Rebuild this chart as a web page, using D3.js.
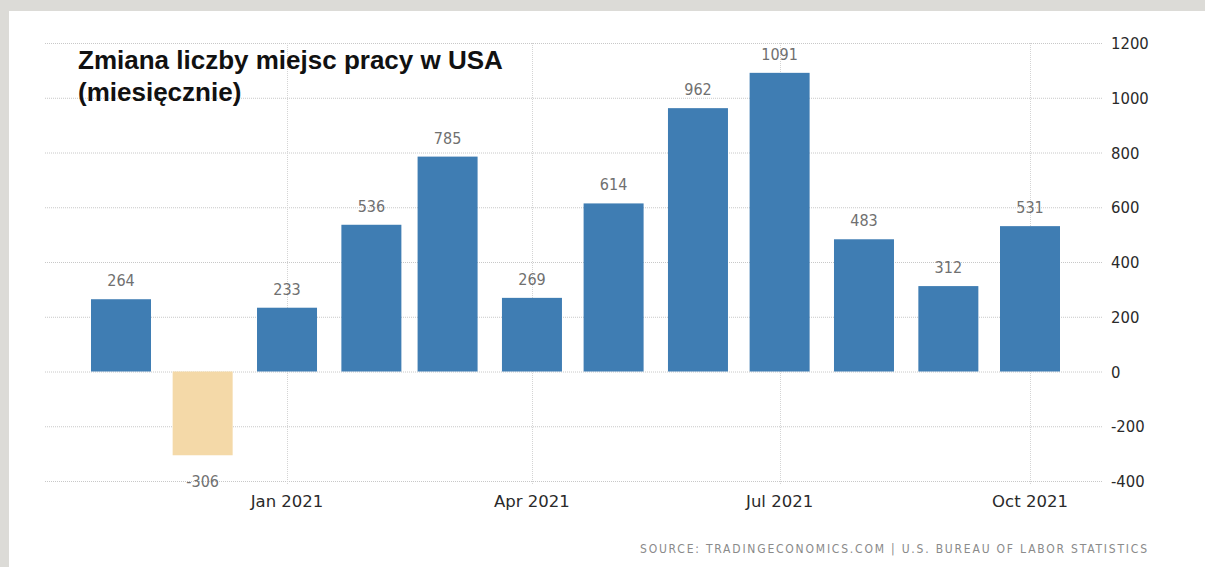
<!DOCTYPE html>
<html>
<head>
<meta charset="utf-8">
<script src="https://cdn.jsdelivr.net/npm/d3@7"></script>
<style>
  body { margin: 0; background: #dcdbd7; }
  svg { display: block; }
</style>
</head>
<body>
<svg id="chart" width="1205" height="567"></svg>
<script>
// Data
const months = ['2020-11-01', '2020-12-01', '2021-01-01', '2021-02-01', '2021-03-01', '2021-04-01',
  '2021-05-01', '2021-06-01', '2021-07-01', '2021-08-01', '2021-09-01', '2021-10-01'];
const values = [264, -306, 233, 536, 785, 269, 614, 962, 1091, 483, 312, 531];
const yTicks = [-400, -200, 0, 200, 400, 600, 800, 1000, 1200];
const xTicks = ['2021-01-01', '2021-04-01', '2021-07-01', '2021-10-01'];
const titleLines = ['Zmiana liczby miejsc pracy w USA', '(miesięcznie)'];
const sourceText = 'SOURCE: TRADINGECONOMICS.COM | U.S. BUREAU OF LABOR STATISTICS';

const parse = d3.utcParse('%Y-%m-%d');
const data = months.map((m, i) => ({ date: parse(m), value: values[i] }));

const svg = d3.select('#chart');

// white panel over gray frame
svg.append('rect')
  .attr('x', 9).attr('y', 11)
  .attr('width', 1196).attr('height', 556)
  .attr('fill', '#fff');

// Scales
const x = d3.scaleUtc()
  .domain([parse('2020-11-01'), parse('2021-10-01')])
  .range([121, 1030]);

const y = d3.scaleLinear()
  .domain([-400, 1200])
  .range([481, 43]);

const barWidth = 60;

// Grid
const grid = svg.append('g');
grid.selectAll('.hgrid')
  .data(yTicks)
  .enter()
  .append('line')
  .attr('x1', 45).attr('x2', 1102)
  .attr('y1', d => y(d) + 0.5).attr('y2', d => y(d) + 0.5)
  .attr('stroke', '#c8c8c8')
  .attr('stroke-dasharray', '1,1');

grid.selectAll('.vgrid')
  .data(xTicks.map(parse))
  .enter()
  .append('line')
  .attr('x1', d => Math.round(x(d)) + 0.5).attr('x2', d => Math.round(x(d)) + 0.5)
  .attr('y1', y(1200)).attr('y2', y(-400) + 4)
  .attr('stroke', '#d4d4d4')
  .attr('stroke-dasharray', '1,1');

// Bars
svg.append('g')
  .selectAll('rect')
  .data(data)
  .enter()
  .append('rect')
  .attr('x', d => x(d.date) - barWidth / 2)
  .attr('width', barWidth)
  .attr('y', d => y(Math.max(0, d.value)))
  .attr('height', d => Math.abs(y(d.value) - y(0)))
  .attr('fill', d => d.value < 0 ? '#f4d9a8' : '#3f7db3');

// Value labels
svg.append('g')
  .selectAll('text')
  .data(data)
  .enter()
  .append('text')
  .attr('x', d => x(d.date))
  .attr('y', d => d.value < 0 ? y(d.value) + 32 : y(d.value) - 13)
  .attr('text-anchor', 'middle')
  .attr('font-family', '"DejaVu Sans Condensed", "Liberation Sans Narrow", sans-serif')
  .attr('font-size', 16)
  .attr('fill', '#707070')
  .text(d => d.value);

// Y axis labels
svg.append('g')
  .selectAll('text')
  .data(yTicks)
  .enter()
  .append('text')
  .attr('x', 1111)
  .attr('y', d => y(d) + 6)
  .attr('font-family', '"DejaVu Sans Condensed", "Liberation Sans Narrow", sans-serif')
  .attr('font-size', 16.5)
  .attr('fill', '#2a2a2a')
  .text(d => d);

// X axis labels
const fmt = d3.utcFormat('%b %Y');
svg.append('g')
  .selectAll('text')
  .data(xTicks.map(parse))
  .enter()
  .append('text')
  .attr('x', d => x(d))
  .attr('y', 507)
  .attr('text-anchor', 'middle')
  .attr('font-family', '"DejaVu Sans", sans-serif')
  .attr('font-size', 16.5)
  .attr('fill', '#2a2a2a')
  .text(d => fmt(d));

// Title
svg.append('g')
  .selectAll('text')
  .data(titleLines)
  .enter()
  .append('text')
  .attr('x', 78)
  .attr('y', (d, i) => 69 + i * 32)
  .attr('font-family', '"Liberation Sans", Arial, sans-serif')
  .attr('font-weight', 'bold')
  .attr('font-size', 26)
  .attr('fill', '#111')
  .text(d => d);

// Source
svg.append('text')
  .attr('x', 1147)
  .attr('y', 553)
  .attr('text-anchor', 'end')
  .attr('font-family', '"DejaVu Sans Condensed", sans-serif')
  .attr('font-size', 12)
  .attr('fill', '#8a8a8a')
  .attr('textLength', 507)
  .attr('lengthAdjust', 'spacing')
  .text(sourceText);
</script>
</body>
</html>
